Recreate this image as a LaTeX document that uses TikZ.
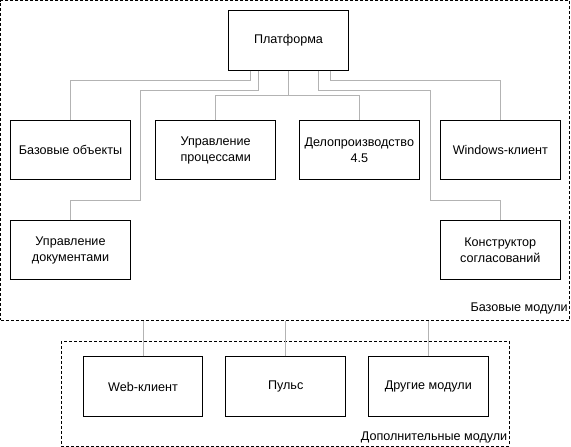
\documentclass[tikz,border=0pt]{standalone}
\usepackage{fontspec}
\setmainfont{Liberation Sans}
\definecolor{connc}{HTML}{B3B3B3}
\begin{document}
\begin{tikzpicture}[x=1pt,y=1pt,
  mbox/.style={draw=black, line width=1pt, fill=white, minimum width=119.5pt, minimum height=59.5pt, inner sep=0pt, align=center, font=\fontsize{12.6}{15.6}\selectfont},
  grp/.style={draw=black, line width=1pt, dash pattern=on 3pt off 2pt, inner sep=0pt},
  conn/.style={draw=connc, line width=1pt},
  glabel/.style={font=\fontsize{12.6}{15.6}\selectfont, inner sep=0pt}]
\useasboundingbox (0,0) rectangle (571,-447);
% groups
\node[grp, minimum width=569pt, minimum height=319.5pt] (basegrp) at (285.25,-160.25) {};
\node[grp, minimum width=448.3pt, minimum height=104.3pt] (addgrp) at (285.15,-393.85) {};
% boxes
\node[mbox] (plat) at (288.5,-40.3) {Платформа};
\node[mbox] (base) at (70.5,-150.2) {Базовые объекты};
\node[mbox] (proc) at (215.7,-150.2) {Управление\\процессами};
\node[mbox] (delo) at (359.3,-150.2) {Делопроизводство\\4.5};
\node[mbox] (win) at (500.3,-150.2) {Windows-клиент};
\node[mbox] (doc) at (70.5,-250.2) {Управление\\документами};
\node[mbox] (konstr) at (500.3,-250.2) {Конструктор\\согласований};
\node[mbox] (web) at (143,-386.7) {Web-клиент};
\node[mbox] (pulse) at (285.7,-386.7) {Пульс};
\node[mbox] (other) at (428.3,-386.7) {Другие модули};
% labels
\node[glabel, anchor=base east] (lblbase) at (568,-311) {Базовые модули};
\node[glabel, anchor=base east] (lbladd) at (507.5,-440.5) {Дополнительные модули};
% connectors
\draw[conn] ([xshift=-37.8pt]plat.south) -- ++(0,-10) -| (base.north);
\coordinate (bendl) at (140.7,-200);
\draw[conn] ([xshift=-30.2pt]plat.south) -- ++(0,-20) -| (bendl) -| (doc.north);
\coordinate (mid) at ([yshift=-25pt]plat.south);
\draw[conn] (plat.south) -- (mid);
\draw[conn] (proc.north) |- (mid) -| (delo.north);
\coordinate (bendr) at (430.3,-200);
\draw[conn] ([xshift=30.2pt]plat.south) -- ++(0,-20) -| (bendr) -| (konstr.north);
\draw[conn] ([xshift=41.5pt]plat.south) -- ++(0,-10) -| (win.north);
\draw[conn] (web.north) -- (web.north |- basegrp.south);
\draw[conn] (pulse.north) -- (pulse.north |- basegrp.south);
\draw[conn] (other.north) -- (other.north |- basegrp.south);
\end{tikzpicture}
\end{document}
